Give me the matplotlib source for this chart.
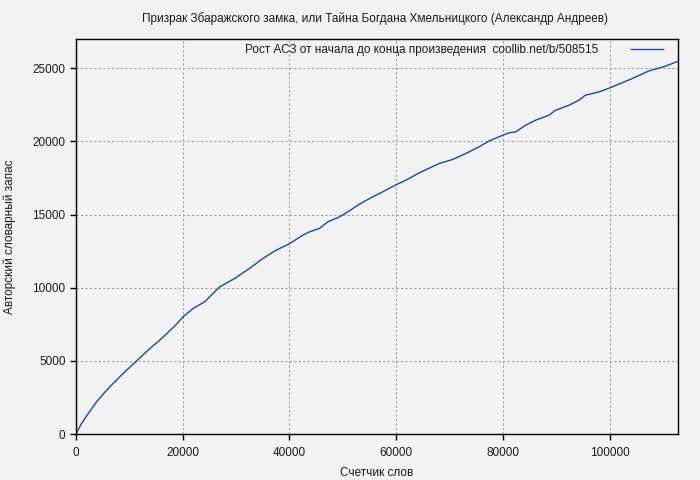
import matplotlib
matplotlib.use("Agg")
import matplotlib.pyplot as plt

plt.rcParams["font.family"] = ["Liberation Sans", "DejaVu Sans"]

TITLE = "Призрак Збаражского замка, или Тайна Богдана Хмельницкого (Александр Андреев)"
SERIES_LABEL = "Рост АСЗ от начала до конца произведения  coollib.net/b/508515"

# word counter vs. author's vocabulary
words = [0, 1000, 2000, 3870, 5500, 6970, 9000, 11340, 13520, 15700, 18500,
         20060, 21930, 24110, 26920, 29720, 31280, 32520, 35010, 37510, 39870,
         42490, 43740, 45610, 47160, 49350, 51210, 53080, 55570, 57440, 59810,
         61810, 64300, 68040, 70520, 73020, 75510, 77380, 79680, 81120, 82370,
         84240, 86110, 88600, 89850, 92340, 94210, 95450, 97940, 99690, 104170,
         107290, 110410, 112800]
vocab = [0, 700, 1250, 2210, 2900, 3460, 4200, 4990, 5740, 6420, 7380,
         8010, 8580, 9040, 10060, 10630, 11020, 11320, 12000, 12570, 12980,
         13590, 13820, 14050, 14500, 14840, 15250, 15710, 16210, 16550, 17010,
         17350, 17850, 18490, 18760, 19170, 19630, 20030, 20380, 20590, 20650,
         21110, 21450, 21790, 22130, 22470, 22810, 23160, 23380, 23610, 24290,
         24810, 25140, 25480]

x_ticks = [0, 20000, 40000, 60000, 80000, 100000]
y_ticks = [0, 5000, 10000, 15000, 20000, 25000]

BG = "#f2f2f2"
LINE = "#0b4db0"
GRID = "#a0a0a0"
INK = "#1a1a1a"
FS = 8.5

fig = plt.figure(figsize=(7.0, 4.8), dpi=100)
fig.patch.set_facecolor(BG)
ax = fig.add_axes([0.1086, 0.0958, 0.86, 0.8229])
ax.set_facecolor(BG)

ax.plot(words, vocab, color=LINE, linewidth=1.0, label=SERIES_LABEL)

ax.set_xlim(0, 112800)
ax.set_ylim(0, 27000)
ax.set_xticks(x_ticks)
ax.set_yticks(y_ticks)
ax.tick_params(direction="out", length=4, width=1, colors="black",
               labelcolor=INK, labelsize=FS)
ax.tick_params(axis="x", pad=5)
ax.grid(True, color=GRID, linestyle=(0, (2, 2)), linewidth=0.8)
for spine in ax.spines.values():
    spine.set_color("black")
    spine.set_linewidth(1.0)

ax.set_xlabel("Счетчик слов", fontsize=FS, color=INK, labelpad=6)
ax.set_ylabel("Авторский словарный запас", fontsize=FS, color=INK, labelpad=12)
fig.text(0.536, 0.962, TITLE, ha="center", va="center", fontsize=FS, color=INK)

ax.legend(loc="upper right", bbox_to_anchor=(0.9884, 1.0076), frameon=False,
          markerfirst=False, fontsize=FS, handlelength=2.7, handletextpad=2.8,
          borderaxespad=0.4, borderpad=0.3, labelcolor=INK)

fig.savefig("out.png", dpi=100, facecolor=fig.get_facecolor())
